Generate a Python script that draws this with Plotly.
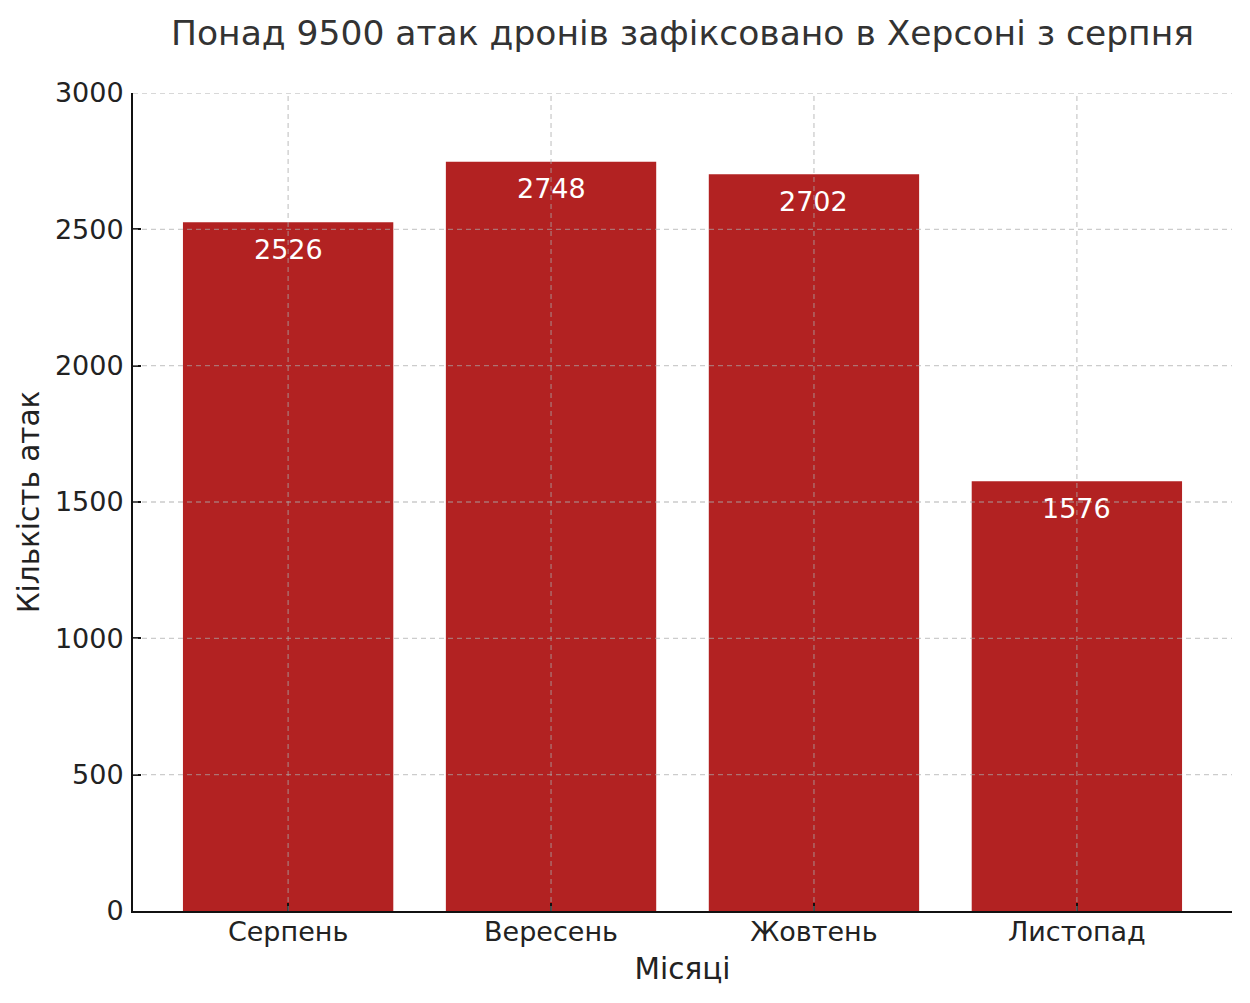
import plotly.graph_objects as go

months = ["Серпень", "Вересень", "Жовтень", "Листопад"]
attacks = [2526, 2748, 2702, 1576]
y_ticks = [0, 500, 1000, 1500, 2000, 2500, 3000]
title_text = "Понад 9500 атак дронів зафіксовано в Херсоні з серпня"
x_label = "Місяці"
y_label = "Кількість атак"

FONT = "DejaVu Sans"
BAR = "#b22222"
GRID = "rgba(170,170,170,0.6)"

fig = go.Figure()
fig.add_trace(go.Bar(x=months, y=attacks, marker_color=BAR, marker_line_width=0,
                     width=0.8, showlegend=False, hoverinfo="skip"))

for m, v in zip(months, attacks):
    fig.add_annotation(x=m, y=v - 100, text=str(v), showarrow=False,
                       xref="x", yref="y", yanchor="middle",
                       font=dict(family=FONT, size=27, color="white"))

shapes = []
for t in y_ticks[1:]:
    shapes.append(dict(type="line", xref="paper", x0=0, x1=1, yref="y", y0=t, y1=t,
                       line=dict(color=GRID, width=1.3, dash="5px,4px"), layer="above"))
for m in months:
    shapes.append(dict(type="line", xref="x", x0=m, x1=m, yref="paper", y0=0, y1=1,
                       line=dict(color=GRID, width=1.3, dash="5px,4px"), layer="above"))

fig.update_layout(
    width=1250, height=1003,
    margin=dict(l=133, r=18, t=93, b=92),
    paper_bgcolor="white", plot_bgcolor="white",
    font=dict(family=FONT, color="#222222"),
    title=dict(text=title_text, x=(133 + 1232) / 2 / 1250, xanchor="center",
               y=1 - 33 / 1003, yanchor="middle",
               font=dict(family=FONT, size=34.5, color="#333333")),
    shapes=shapes,
    bargap=0.2,
)
fig.update_xaxes(
    range=[-0.59, 3.59], showgrid=False, showline=True, linecolor="#111111", linewidth=2,
    ticks="inside", ticklen=8, tickwidth=1.5, tickcolor="#111111",
    tickfont=dict(family=FONT, size=27, color="#222222"), ticklabelstandoff=-4,
    title=dict(text=x_label, font=dict(family=FONT, size=29.5, color="#222222"), standoff=12),
    zeroline=False, layer="above traces",
)
fig.update_yaxes(
    range=[0, 3000], tickvals=y_ticks, showgrid=False, showline=True, linecolor="#111111",
    linewidth=2, ticks="inside", ticklen=8, tickwidth=1.5, tickcolor="#111111",
    tickfont=dict(family=FONT, size=27, color="#222222"), ticklabelstandoff=2,
    title=dict(text=y_label, font=dict(family=FONT, size=29.5, color="#222222"), standoff=7),
    zeroline=False, layer="above traces",
)

fig.write_html("out.html")
